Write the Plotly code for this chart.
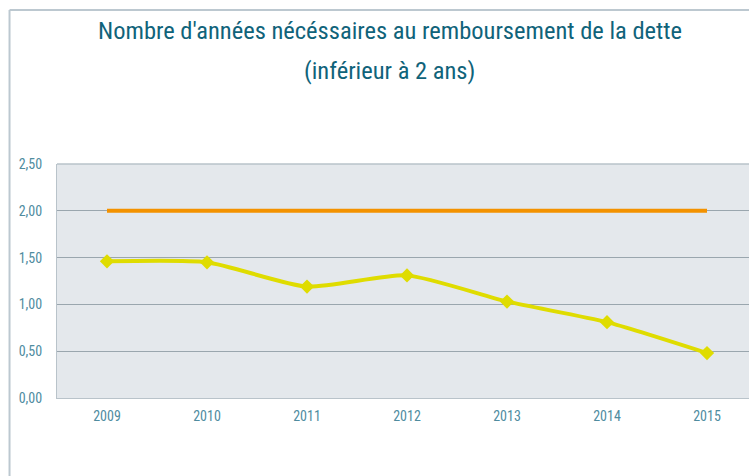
import plotly.graph_objects as go

years = ["2009", "2010", "2011", "2012", "2013", "2014", "2015"]
debt_years = [1.46, 1.45, 1.19, 1.31, 1.03, 0.81, 0.48]
threshold = [2.0, 2.0, 2.0, 2.0, 2.0, 2.0, 2.0]
y_ticks = [0, 0.5, 1.0, 1.5, 2.0, 2.5]
title_lines = ["Nombre d'années nécéssaires au remboursement de la dette",
               "(inférieur à 2 ans)"]

FONT = "Liberation Sans Narrow, Roboto Condensed, DejaVu Sans Condensed, sans-serif"
TITLE_C = "#10637a"
TICK_C = "#4f8c9f"
FRAME_C = "#bcc8d0"

fig = go.Figure()
fig.add_trace(go.Scatter(
    x=years, y=threshold, mode="lines",
    line=dict(color="#f39200", width=4), hoverinfo="skip", showlegend=False))
fig.add_trace(go.Scatter(
    x=years, y=debt_years, mode="lines+markers",
    line=dict(color="#dfdc00", width=4, shape="spline", smoothing=0.6),
    marker=dict(symbol="diamond", size=11, color="#dfdc00"),
    showlegend=False))

fig.update_layout(
    width=749, height=476,
    margin=dict(l=57, r=0, t=164, b=78),
    paper_bgcolor="white",
    plot_bgcolor="#e4e8ec",
    separators=", ",
    font=dict(family=FONT, size=14, color=TICK_C),
    xaxis=dict(
        type="category", range=[-0.5, 6.42],
        showgrid=False, zeroline=False,
        showline=True, linecolor="#b9c3ca", linewidth=1, mirror=False,
        ticks="", ticklabelstandoff=5,
        tickfont=dict(family=FONT, size=14, color=TICK_C)),
    yaxis=dict(
        range=[0, 2.5], tickvals=y_ticks, tickformat=".2f",
        showgrid=True, gridcolor="#9aa6ae", gridwidth=1,
        zeroline=False,
        showline=True, linecolor="#b9c3ca", linewidth=1, mirror=False,
        ticks="", ticklabelstandoff=11,
        tickfont=dict(family=FONT, size=14, color=TICK_C)),
    shapes=[
        dict(type="line", xref="paper", yref="paper",
             x0=0, x1=1.02, y0=1, y1=1,
             line=dict(color="#b9c3ca", width=1.5)),
        dict(type="line", xref="paper", yref="paper",
             x0=-0.0686, x1=1.02, y0=1.658, y1=1.658,
             line=dict(color=FRAME_C, width=2)),
        dict(type="line", xref="paper", yref="paper",
             x0=-0.0686, x1=-0.0686, y0=1.658, y1=-0.4,
             line=dict(color=FRAME_C, width=2)),
    ],
    annotations=[
        dict(text=title_lines[0], xref="paper", yref="paper",
             x=0.4805, y=1.571, xanchor="center", yanchor="middle",
             showarrow=False, font=dict(family=FONT, size=24.5, color=TITLE_C)),
        dict(text=title_lines[1], xref="paper", yref="paper",
             x=0.4805, y=1.398, xanchor="center", yanchor="middle",
             showarrow=False, font=dict(family=FONT, size=24.5, color=TITLE_C)),
    ],
)

fig.write_html("out.html",
               config={"displayModeBar": False},
               post_script="document.body.style.margin='0';document.body.style.overflow='hidden';")
